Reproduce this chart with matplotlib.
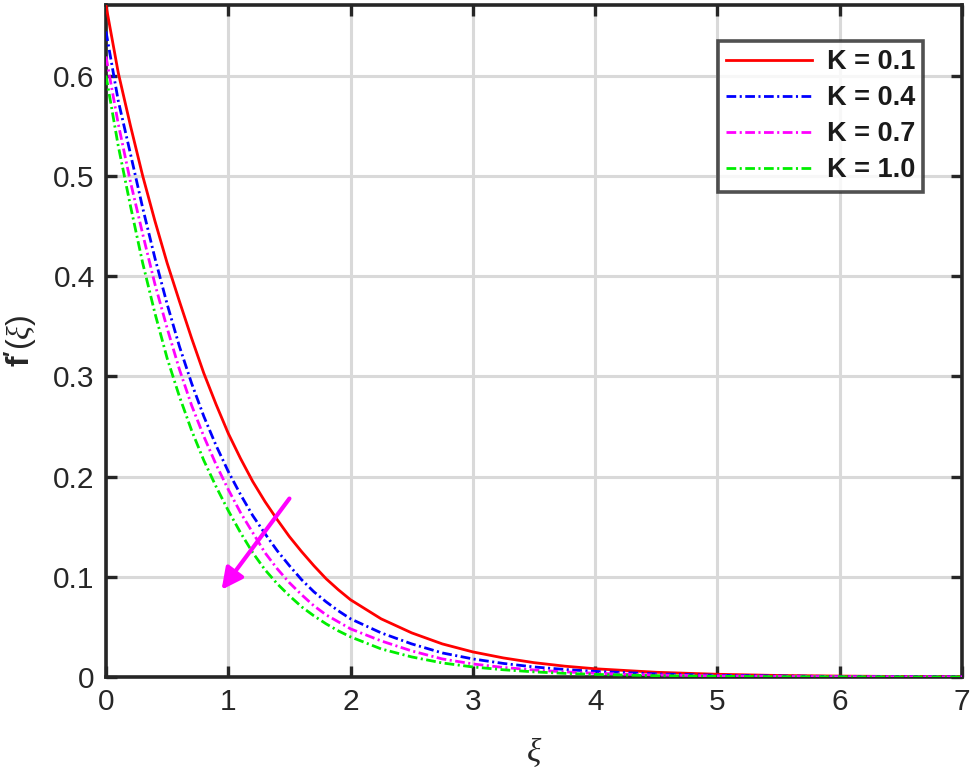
import matplotlib
matplotlib.use("Agg")
import matplotlib.pyplot as plt

plt.rcParams['font.family'] = ['Liberation Sans', 'DejaVu Sans']
plt.rcParams['lines.scale_dashes'] = False
plt.rcParams['mathtext.fontset'] = 'custom'
plt.rcParams['mathtext.rm'] = 'Liberation Sans'
plt.rcParams['mathtext.bf'] = 'Liberation Sans:bold'
plt.rcParams['mathtext.it'] = 'Liberation Serif:italic'

# Values
xi = [0.0, 0.1, 0.2, 0.3, 0.4, 0.5, 0.6, 0.7, 0.8, 0.9, 1.0,
      1.1, 1.2, 1.3, 1.4, 1.5, 1.6, 1.7, 1.8, 1.9, 2.0,
      2.25, 2.5, 2.75, 3.0, 3.25, 3.5, 3.75, 4.0, 4.5, 5.0, 5.5, 6.0, 6.5, 7.0]

fp_k01 = [0.670, 0.603, 0.550, 0.500, 0.455, 0.413, 0.375, 0.338, 0.303, 0.272, 0.243,
          0.218, 0.195, 0.175, 0.157, 0.140, 0.125, 0.111, 0.098, 0.087, 0.077,
          0.058, 0.044, 0.033, 0.025, 0.019, 0.0143, 0.0108, 0.0082, 0.0047, 0.0027, 0.0015, 0.0009, 0.0005, 0.0003]

fp_k04 = [0.644, 0.575, 0.522, 0.468, 0.418, 0.372, 0.330, 0.293, 0.260, 0.231, 0.205,
          0.182, 0.161, 0.143, 0.126, 0.111, 0.097, 0.085, 0.075, 0.066, 0.058,
          0.044, 0.033, 0.024, 0.018, 0.0135, 0.010, 0.0075, 0.0056, 0.0031, 0.0017, 0.0010, 0.0005, 0.0003, 0.0002]

fp_k07 = [0.619, 0.552, 0.494, 0.442, 0.392, 0.348, 0.307, 0.271, 0.240, 0.212, 0.187,
          0.164, 0.144, 0.124, 0.108, 0.094, 0.082, 0.071, 0.062, 0.055, 0.048,
          0.036, 0.026, 0.018, 0.013, 0.0095, 0.0070, 0.0051, 0.0037, 0.0020, 0.0011, 0.0006, 0.0003, 0.0002, 0.0001]

fp_k10 = [0.600, 0.530, 0.470, 0.413, 0.363, 0.318, 0.280, 0.246, 0.216, 0.190, 0.166,
          0.144, 0.124, 0.107, 0.093, 0.081, 0.070, 0.061, 0.053, 0.046, 0.040,
          0.028, 0.020, 0.014, 0.010, 0.0072, 0.0051, 0.0036, 0.0026, 0.0013, 0.0007, 0.0003, 0.0002, 0.0001, 0.00005]

labels = ['K = 0.1', 'K = 0.4', 'K = 0.7', 'K = 1.0']
colors = ['#ff0000', '#0000ff', '#ff00ff', '#00ee00']

x_ticks = [0, 1, 2, 3, 4, 5, 6, 7]
y_ticks = [0, 0.1, 0.2, 0.3, 0.4, 0.5, 0.6]

fig = plt.figure(figsize=(9.75, 7.76), dpi=100)
ax = fig.add_axes([0.1087, 0.1276, 0.8780, 0.8660])

dashdot = (0, (7, 2.5, 1.5, 2.5))
styles = ['-', dashdot, dashdot, dashdot]
for y, lab, c, ls in zip([fp_k01, fp_k04, fp_k07, fp_k10], labels, colors, styles):
    ax.plot(xi, y, color=c, linestyle=ls, linewidth=2.0, label=lab, zorder=3)

ax.set_xlim(0, 7)
ax.set_ylim(0, 0.6704)
ax.set_xticks(x_ticks)
ax.set_yticks(y_ticks)
ax.set_xticklabels([str(t) for t in x_ticks])
ax.set_yticklabels(['0'] + ['%.1f' % t for t in y_ticks[1:]])

ax.grid(True, color='#d9d9d9', linewidth=2.2, zorder=0)
ax.set_axisbelow(True)

for s in ax.spines.values():
    s.set_linewidth(2.6)
    s.set_color('#262626')
ax.tick_params(direction='in', length=8, width=2.4, colors='#262626',
               top=True, right=True, labelsize=21.5, pad=8)

ax.set_xlabel('ξ', fontsize=24, family='Liberation Serif', style='italic',
              color='#262626', labelpad=16)
ax.set_ylabel(r"$\mathbf{f}^{\mathbf{\prime}}\mathrm{(}\xi\mathrm{)}$", fontsize=23,
              color='#262626', labelpad=10)

leg = ax.legend(loc='upper right', bbox_to_anchor=(0.9545, 0.946),
                prop={'weight': 'bold', 'size': 19.5}, handlelength=3.15,
                frameon=True, fancybox=False, borderpad=0.3, labelspacing=0.37,
                handletextpad=0.55, borderaxespad=0)
leg.get_frame().set_edgecolor('#262626')
leg.get_frame().set_linewidth(2.6)
for t in leg.get_texts():
    t.set_color('#1a1a1a')

ax.annotate('', xy=(0.945, 0.087), xytext=(1.50, 0.178),
            arrowprops=dict(arrowstyle='-|>', color='#ff00ff', lw=3,
                            mutation_scale=32, shrinkA=0, shrinkB=0),
            zorder=5)

fig.savefig('out.png', dpi=100)
